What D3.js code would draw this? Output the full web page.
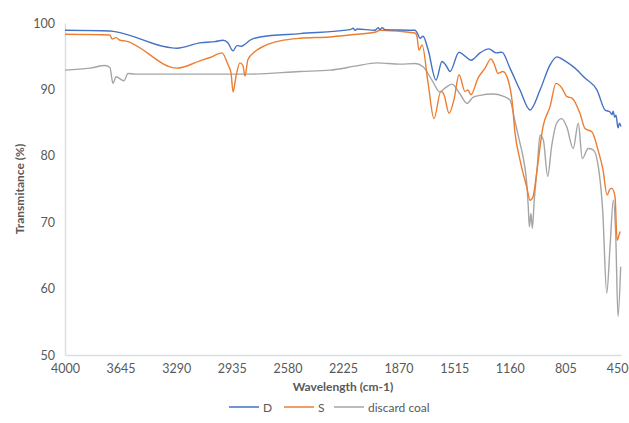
<!DOCTYPE html>
<html>
<head>
<meta charset="utf-8">
<script src="https://cdn.jsdelivr.net/npm/d3@7"></script>
<style>
  body { margin: 0; background: #fff; }
  svg { display: block; font-family: Lato, "Open Sans", sans-serif; }
</style>
</head>
<body>
<svg id="chart" width="629" height="423"></svg>
<script>
// FTIR spectra: wavenumber (cm-1) and transmittance (%)
const seriesNames = ["D", "S", "discard coal"];
const seriesColors = ["#4472C4", "#ED7D31", "#A5A5A5"];

const xTicks = [4000, 3645, 3290, 2935, 2580, 2225, 1870, 1515, 1160, 805, 450];
const yTicks = [50, 60, 70, 80, 90, 100];

const dWn = [4000, 3713, 3681, 3285, 3138, 3042, 2991, 2959, 2927, 2902, 2876, 2851, 2819, 2755, 2500,
  2180, 2160, 2148, 2135, 2021, 2000, 1989, 1975, 1957, 1765, 1753, 1733, 1714, 1682, 1631, 1593, 1567, 1542,
  1484, 1446, 1408, 1350, 1293, 1248, 1210, 1159, 1095, 1031, 967, 903, 859, 808, 744, 680, 603, 552,
  520, 508, 500, 490, 482, 469, 460, 450];
const dT = [98.9, 98.8, 98.7, 96.2, 97.0, 97.2, 97.4, 97.0, 95.8, 96.6, 96.5, 96.8, 97.4, 97.9, 98.4,
  99.0, 99.2, 98.9, 99.1, 98.9, 99.3, 99.0, 99.3, 99.0, 98.9, 98.6, 97.7, 98.0, 96.0, 91.4, 94.2, 93.6, 92.7,
  95.6, 95.0, 94.4, 95.5, 96.1, 95.5, 95.6, 93.2, 89.9, 86.9, 89.9, 93.7, 94.9, 94.3, 93.2, 91.7, 89.9, 86.9,
  86.6, 86.2, 86.7, 85.8, 86.1, 84.2, 84.9, 84.4];

const sWn = [4000, 3713, 3700, 3674, 3649, 3617, 3285, 3138, 3074, 2998, 2959, 2940, 2927, 2908, 2883,
  2864, 2851, 2832, 2787, 2723, 2627, 2500, 2308, 2180, 2021, 1989, 1765, 1753, 1740, 1720, 1682, 1644,
  1600, 1580, 1548, 1516, 1484, 1446, 1427, 1408, 1363, 1318, 1280, 1261, 1235, 1204, 1172, 1146, 1127,
  1095, 1050, 1031, 1012, 986, 948, 903, 865, 827, 795, 763, 712, 680, 635, 597, 565, 539, 520, 508, 488,
  475, 463, 456];
const sT = [98.3, 98.2, 97.6, 97.8, 97.4, 97.3, 93.2, 94.3, 94.8, 95.5, 93.7, 92.5, 89.6, 92.0, 94.0,
  93.6, 92.0, 94.5, 95.7, 96.6, 97.3, 97.7, 97.9, 98.2, 98.6, 98.9, 98.5, 98.0, 95.9, 96.7, 91.0, 85.6,
  89.7, 89.2, 86.4, 88.5, 92.2, 89.7, 89.9, 89.2, 91.7, 93.2, 94.6, 93.9, 92.4, 92.7, 91.5, 88.4, 83.5,
  79.4, 75.1, 73.3, 73.8, 77.9, 84.4, 87.4, 90.9, 90.2, 88.9, 88.7, 86.4, 84.1, 83.6, 80.9, 77.9, 74.1, 75.0,
  75.1, 73.8, 67.3, 68.0, 68.6];

const cWn = [4000, 3840, 3745, 3713, 3694, 3674, 3649, 3623, 3598, 3553, 3138, 2819, 2500, 2308, 2148,
  2008, 1861, 1765, 1714, 1657, 1606, 1574, 1529, 1478, 1433, 1395, 1350, 1267, 1204, 1159, 1127, 1095,
  1076, 1050, 1042, 1035, 1025, 1016, 1004, 986, 967, 946, 918, 893, 861, 829, 797, 755, 723, 697, 659,
  627, 595, 567, 541, 520, 499, 484, 469, 452];
const cT = [92.9, 93.2, 93.6, 93.3, 90.9, 91.9, 91.6, 91.3, 92.4, 92.3, 92.3, 92.3, 92.7, 92.9, 93.5,
  94.0, 93.8, 93.9, 93.4, 91.4, 89.6, 90.2, 90.8, 89.3, 87.9, 88.8, 89.1, 89.3, 89.0, 88.4, 85.2, 81.9,
  79.9, 75.3, 72.3, 69.3, 71.3, 69.1, 73.3, 77.9, 83.1, 82.4, 76.9, 81.4, 84.9, 85.6, 84.4, 81.1, 84.9, 79.6, 81.1,
  80.9, 78.4, 71.8, 59.3, 66.3, 73.3, 68.3, 55.8, 63.3];

const series = [
  { name: seriesNames[0], color: seriesColors[0], wn: dWn, t: dT },
  { name: seriesNames[1], color: seriesColors[1], wn: sWn, t: sT },
  { name: seriesNames[2], color: seriesColors[2], wn: cWn, t: cT }
];

const svg = d3.select("#chart");
const margin = { left: 65, right: 8, top: 23, bottom: 68 };
const W = 629, H = 423;

const x = d3.scaleLinear().domain([4000, 450]).range([margin.left, W - margin.right]);
const y = d3.scaleLinear().domain([50, 100]).range([H - margin.bottom, margin.top]);

const textColor = "#595959";
const axisColor = "#D9DDE6";

// y axis
const yAxis = svg.append("g")
  .attr("transform", `translate(${margin.left},0)`)
  .call(d3.axisLeft(y).tickValues(yTicks).tickSize(0).tickPadding(10));
yAxis.select(".domain").attr("stroke", axisColor).attr("stroke-width", 1.5);
yAxis.selectAll("text").attr("fill", textColor).attr("font-size", 12.5)
  .attr("font-family", "Lato, 'Open Sans', sans-serif");

// x axis
const xAxis = svg.append("g")
  .attr("transform", `translate(0,${y(50)})`)
  .call(d3.axisBottom(x).tickValues(xTicks).tickFormat(d3.format("d")).tickSize(0).tickPadding(9));
xAxis.select(".domain").attr("stroke", axisColor).attr("stroke-width", 1.5);
xAxis.selectAll("text").attr("fill", textColor).attr("font-size", 12.5)
  .attr("font-family", "Lato, 'Open Sans', sans-serif");
// keep the last tick label inside the canvas
xAxis.selectAll(".tick").filter(d => d === 450).select("text")
  .attr("text-anchor", "end").attr("dx", 7);

// spectra
const line = d3.line()
  .x(d => x(d[0]))
  .y(d => y(d[1]))
  .curve(d3.curveMonotoneX);

// draw grey first so the coloured traces sit on top
[series[2], series[1], series[0]].forEach(s => {
  const pts = s.wn.map((w, i) => [w, s.t[i]]);
  svg.append("path")
    .datum(pts)
    .attr("fill", "none")
    .attr("stroke", s.color)
    .attr("stroke-width", 1.4)
    .attr("stroke-linejoin", "round")
    .attr("d", line);
});

// axis titles
svg.append("text")
  .attr("x", (margin.left + W - margin.right) / 2)
  .attr("y", 391)
  .attr("text-anchor", "middle")
  .attr("fill", textColor)
  .attr("font-size", 12)
  .attr("font-weight", "bold")
  .text("Wavelength (cm-1)");

svg.append("text")
  .attr("transform", `translate(24,${(margin.top + H - margin.bottom) / 2}) rotate(-90)`)
  .attr("text-anchor", "middle")
  .attr("fill", textColor)
  .attr("font-size", 12)
  .attr("font-weight", "bold")
  .text("Transmitance (%)");

// legend
const legendX = [229, 284, 334];
const legend = svg.append("g");
series.forEach((s, i) => {
  const g = legend.append("g").attr("transform", `translate(${legendX[i]},407)`);
  g.append("line").attr("x1", 0).attr("x2", 30).attr("y1", 0).attr("y2", 0)
    .attr("stroke", s.color).attr("stroke-width", 1.5);
  g.append("text").attr("x", 34).attr("y", 4.5)
    .attr("fill", textColor).attr("font-size", 12).text(s.name);
});
</script>
</body>
</html>
